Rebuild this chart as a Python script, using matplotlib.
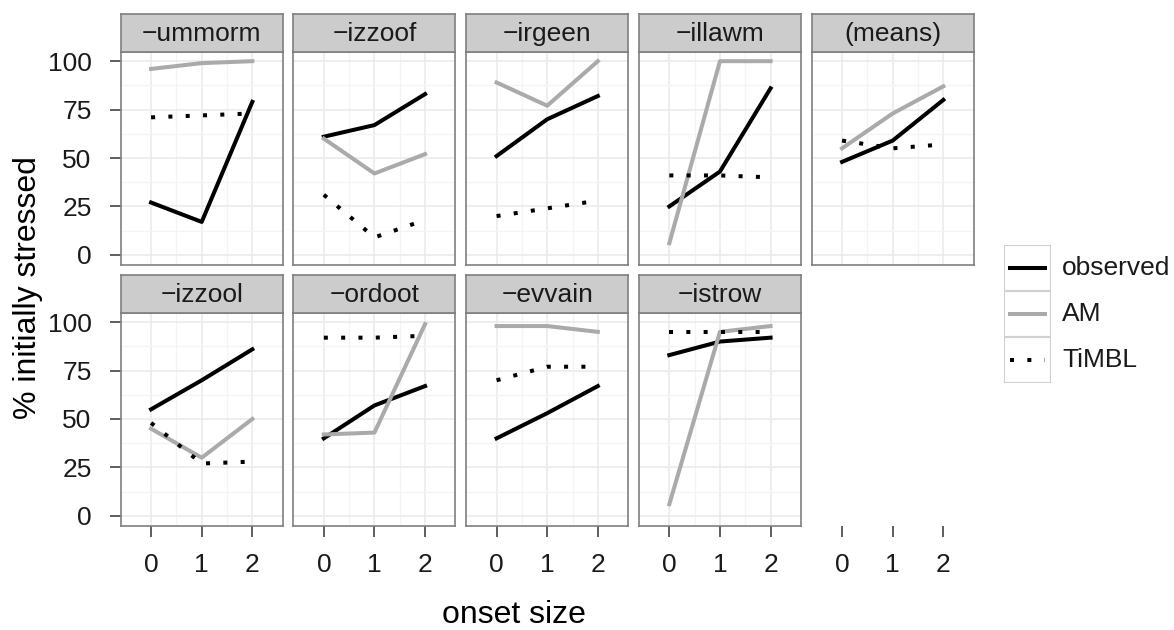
import numpy as np
import matplotlib
matplotlib.use('Agg')
from matplotlib import pyplot as plt
from matplotlib.patches import Rectangle

plt.rcParams['font.family'] = ['Liberation Sans', 'DejaVu Sans']

# data
onset = [0, 1, 2]
panels = ['\u2212ummorm', '\u2212izzoof', '\u2212irgeen', '\u2212illawm', '(means)',
          '\u2212izzool', '\u2212ordoot', '\u2212evvain', '\u2212istrow']
observed = [[27, 17, 79], [61, 67, 83], [51, 70, 82], [25, 43, 86], [48, 59, 80],
            [55, 70, 86], [40, 57, 67], [40, 53, 67], [83, 90, 92]]
am = [[96, 99, 100], [60, 42, 52], [89, 77, 100], [6, 100, 100], [55, 73, 87],
      [45, 30, 50], [42, 43, 99], [98, 98, 95], [6, 95, 98]]
timbl = [[71, 72, 73], [31, 9, 18], [20, 24, 28], [41, 41, 40], [59, 55, 57],
         [48, 27, 28], [92, 92, 93], [70, 77, 77], [95, 95, 95]]
series = ['observed', 'AM', 'TiMBL']
yticks = [0, 25, 50, 75, 100]

W, H = 1174, 630
fig = plt.figure(figsize=(W / 100, H / 100), dpi=100)

def box(l, t, w, h):
    return [l / W, 1 - (t + h) / H, w / W, h / H]

styles = {
    'observed': dict(color='black', lw=2.9, ls='-'),
    'AM': dict(color='#AAAAAA', lw=2.9, ls='-'),
    'TiMBL': dict(color='black', lw=2.9, ls=(0, (1, 3.3)), dash_capstyle='butt'),
}

col_left = [120.7 + i * 172.75 for i in range(5)]
pw, ph, sh = 162, 213, 37.5
row_top = [14, 275]
txt = '#1a1a1a'
fs = 19

for k in range(10):
    r, c = divmod(k, 5)
    l = col_left[c]
    t = row_top[r] + sh
    ax = fig.add_axes(box(l, t, pw, ph))
    ax.set_xlim(-0.6, 2.6)
    ax.set_ylim(-5, 105)
    ax.set_xticks(onset)
    ax.set_yticks(yticks)
    ax.tick_params(length=8, width=1.1, color='#333333', labelsize=fs,
                   labelcolor=txt)
    ax.tick_params(axis='x', pad=12)
    ax.tick_params(axis='y', pad=13)
    if k == 9:
        for s in ax.spines.values():
            s.set_visible(False)
        ax.set_yticks([])
        ax.set_xticklabels([str(v) for v in onset])
        continue
    ax.set_xticks([0.5, 1.5], minor=True)
    ax.set_yticks([12.5, 37.5, 62.5, 87.5], minor=True)
    ax.tick_params(which='minor', length=0)
    ax.grid(which='major', color='#EBEBEB', lw=1.2)
    ax.grid(which='minor', color='#F4F4F4', lw=0.9)
    ax.set_axisbelow(True)
    for s in ax.spines.values():
        s.set_color('#7F7F7F')
        s.set_linewidth(1.2)
    ax.plot(onset, observed[k], **styles['observed'])
    ax.plot(onset, am[k], **styles['AM'])
    ax.plot(onset, timbl[k], **styles['TiMBL'])
    if c == 0:
        ax.set_yticklabels([str(v) for v in yticks])
    else:
        ax.tick_params(axis='y', left=False, labelleft=False)
    if r == 1:
        ax.set_xticklabels([str(v) for v in onset])
    else:
        ax.tick_params(axis='x', bottom=False, labelbottom=False)

    # strip
    sx = fig.add_axes(box(l, row_top[r], pw, sh))
    sx.set_facecolor('#CCCCCC')
    sx.set_xticks([])
    sx.set_yticks([])
    for s in sx.spines.values():
        s.set_color('#7F7F7F')
        s.set_linewidth(1.2)
    sx.text(0.5, 0.47, panels[k], ha='center', va='center', fontsize=fs,
            color=txt, transform=sx.transAxes)

fig.text(28 / W, 1 - 288 / H, '% initially stressed', rotation=90,
         ha='center', va='center', fontsize=23, color='black')
fig.text(514 / W, 1 - 623 / H, 'onset size', ha='center', va='baseline',
         fontsize=23, color='black')

# legend
lg = fig.add_axes(box(1004, 245, 47, 138))
lg.set_xlim(0, 1)
lg.set_ylim(3, 0)
lg.axis('off')
for i, name in enumerate(series):
    lg.add_patch(Rectangle((0, i), 1, 1, facecolor='white', edgecolor='#D0D0D0',
                           lw=1.5))
    lg.plot([0.12, 0.88], [i + 0.5, i + 0.5], **styles[name])
    fig.text(1062 / W, 1 - (268 + 46 * i) / H, name, ha='left', va='center',
             fontsize=fs, color=txt)

fig.savefig('out.png', dpi=100)
